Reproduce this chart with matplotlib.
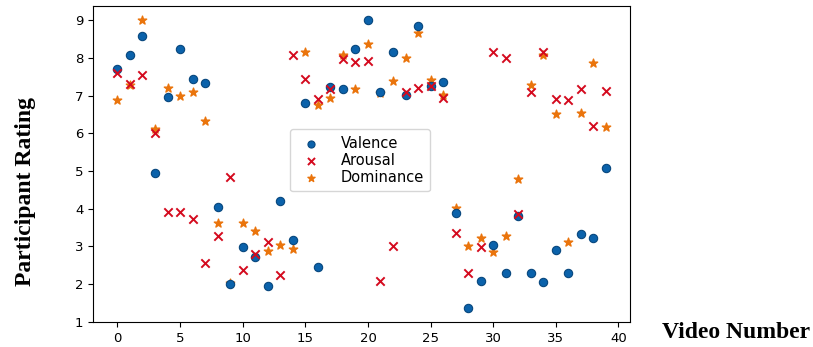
import numpy as np
import matplotlib.pyplot as plt

# --- datos ---
videos = np.arange(40)

valence = [7.71, 8.09, 8.57, 4.94, 6.95, 8.25, 7.43, 7.33, 4.03, 1.99,
           2.99, 2.71, 1.94, 4.19, 3.17, 6.81, 2.46, 7.24, 7.17, 8.25,
           9.00, 7.09, 8.15, 7.01, 8.85, 7.26, 7.35, 3.87, 1.37, 2.08,
           3.03, 2.29, 3.80, 2.29, 2.05, 2.90, 2.30, 3.33, 3.23, 5.09]

arousal = [7.60, 7.31, 7.54, 6.01, 3.92, 3.92, 3.73, 2.55, 3.28, 4.85,
           2.37, 2.79, 3.12, 2.24, 8.07, 7.44, 6.92, 7.17, 7.98, 7.90,
           7.92, 2.08, 3.01, 7.09, 7.21, 7.26, 6.93, 3.35, 2.29, 2.99,
           8.15, 8.00, 3.85, 7.10, 8.15, 6.92, 6.87, 7.17, 6.19, 7.12]

dominance = [6.89, 7.29, 9.00, 6.11, 7.19, 7.00, 7.09, 6.33, 3.62, 2.02,
             3.62, 3.40, 2.88, 3.04, 2.92, 8.15, 6.76, 6.93, 8.09, 7.18,
             8.37, 7.07, 7.38, 8.00, 8.65, 7.41, 7.02, 4.01, 3.02, 3.23,
             2.86, 3.28, 4.79, 7.28, 8.07, 6.51, 3.11, 6.53, 7.87, 6.17]

fig = plt.figure(figsize=(8.13, 3.47), dpi=100)
ax = fig.add_axes([0.1144, 0.072, 0.661, 0.911])

ax.scatter(videos, valence, marker='o', s=36, color='#0b62ab',
           edgecolors='#08477e', linewidths=0.8, label='Valence', zorder=3)
ax.scatter(videos, arousal, marker='x', s=36, color='#d40a1e',
           linewidths=1.4, label='Arousal', zorder=4)
ax.scatter(videos, dominance, marker='*', s=40, color='#ea740c',
           label='Dominance', zorder=2)

ax.set_xticks([0, 5, 10, 15, 20, 25, 30, 35, 40])
ax.set_yticks(range(1, 10))
ax.tick_params(labelsize=9.5)

ax.legend(loc='lower left', bbox_to_anchor=(0.367, 0.413), fontsize=10.5,
          handletextpad=1.0, borderpad=0.45, labelspacing=0.15,
          borderaxespad=0, markerscale=0.85)

fig.text(0.031, 0.447, 'Participant Rating', rotation=90, ha='center',
         va='center', fontsize=17, fontweight='bold', family='Liberation Serif')
fig.text(0.905, 0.043, 'Video Number', ha='center', va='center',
         fontsize=17, fontweight='bold', family='Liberation Serif')

fig.savefig('out.png', dpi=100)
